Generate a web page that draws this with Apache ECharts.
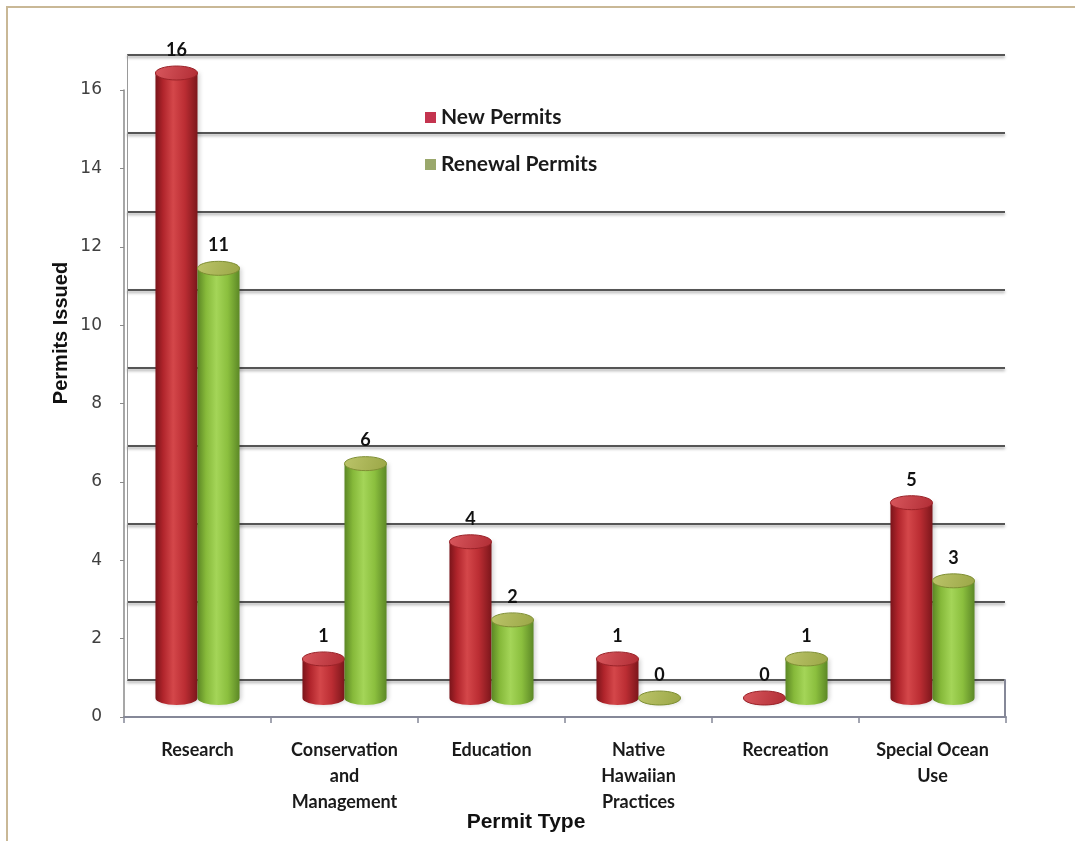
<!DOCTYPE html>
<html>
<head>
<meta charset="utf-8">
<script src="https://cdn.jsdelivr.net/npm/echarts@6/dist/echarts.min.js"></script>
<style>
  html, body { margin: 0; padding: 0; background: #ffffff; }
  #chart { width: 1075px; height: 841px; }
</style>
</head>
<body>
<div id="chart"></div>
<script>
// Permits issued by permit type
const categories = [
  'Research',
  'Conservation\nand\nManagement',
  'Education',
  'Native\nHawaiian\nPractices',
  'Recreation',
  'Special Ocean\nUse'
];
const newPermits = [16, 1, 4, 1, 0, 5];
const renewalPermits = [11, 6, 2, 0, 1, 3];
const valueMin = 0;
const valueMax = 16;
const valueStep = 2;

const chart = echarts.init(document.getElementById('chart'), null, { renderer: 'canvas' });

const redPalette = {
  body: [
    { offset: 0, color: '#7a141a' },
    { offset: 0.18, color: '#b0242b' },
    { offset: 0.42, color: '#d4474a' },
    { offset: 0.7, color: '#bb2d33' },
    { offset: 1, color: '#7c161b' }
  ],
  cap: [
    { offset: 0, color: '#d9585e' },
    { offset: 1, color: '#b02c34' }
  ],
  rim: '#9a2228'
};
const greenPalette = {
  body: [
    { offset: 0, color: '#5b8624' },
    { offset: 0.2, color: '#86b93a' },
    { offset: 0.45, color: '#a4d558' },
    { offset: 0.72, color: '#8bbf3e' },
    { offset: 1, color: '#5c8826' }
  ],
  cap: [
    { offset: 0, color: '#bcc46a' },
    { offset: 1, color: '#9aa646' }
  ],
  rim: '#7f8f34'
};

const labelFont = 'Lato, "Open Sans", sans-serif';

// A cylinder standing on the floor, shifted left (-1) or right (+1) of the category centre
function cylinder(palette, side) {
  return function (params, api) {
    const i = api.value(0);
    const v = api.value(1);
    const top = api.coord([i, v]);
    const base = api.coord([i, 0]);
    const band = api.size([1, 0])[0];
    const rx = band * 0.143;
    const ry = 7;
    const cx = top[0] + side * rx;
    const x0 = cx - rx;
    const x1 = cx + rx;
    return {
      type: 'group',
      children: [
        {
          type: 'path',
          shape: {
            pathData: 'M' + x0 + ' ' + top[1] + ' L' + x0 + ' ' + base[1] +
              ' A' + rx + ' ' + ry + ' 0 0 0 ' + x1 + ' ' + base[1] +
              ' L' + x1 + ' ' + top[1] + ' Z'
          },
          style: {
            fill: new echarts.graphic.LinearGradient(0, 0, 1, 0, palette.body),
            shadowColor: 'rgba(0,0,0,0.18)',
            shadowBlur: 4,
            shadowOffsetX: 2
          }
        },
        {
          type: 'ellipse',
          shape: { cx: cx, cy: top[1], rx: rx, ry: ry },
          style: {
            fill: new echarts.graphic.LinearGradient(0, 0, 1, 1, palette.cap),
            stroke: palette.rim,
            lineWidth: 1
          }
        },
        {
          type: 'text',
          style: {
            text: String(v),
            x: cx,
            y: top[1] - ry - 16,
            align: 'center',
            verticalAlign: 'middle',
            font: 'bold 18px ' + labelFont,
            fill: '#111111'
          }
        }
      ]
    };
  };
}

const floorLine = '#858898';

const option = {
  backgroundColor: '#ffffff',
  animation: false,
  color: ['#c4344f', '#9aa86c'],
  legend: {
    orient: 'vertical',
    left: 420,
    top: 102,
    itemWidth: 11,
    itemHeight: 11,
    itemGap: 26,
    icon: 'rect',
    textStyle: {
      fontFamily: labelFont,
      fontWeight: 'bold',
      fontSize: 21,
      color: '#1a1a1a',
      padding: [0, 0, 0, 0]
    },
    data: ['New Permits', 'Renewal Permits']
  },
  grid: [
    // back wall
    { left: 127, right: 70, top: 55, bottom: 161 },
    // front edge with the axes
    { left: 124, right: 69, top: 90, bottom: 124 },
    // floor depth
    { left: 124, right: 70, top: 680, bottom: 124 },
    // plane the cylinders stand in
    { left: 124, right: 69, top: 73, bottom: 143 }
  ],
  xAxis: [
    { gridIndex: 0, type: 'category', data: categories, show: false },
    {
      gridIndex: 1,
      type: 'category',
      data: categories,
      axisLine: { lineStyle: { color: floorLine, width: 2 } },
      axisTick: { show: true, length: 6, lineStyle: { color: floorLine, width: 1.5 } },
      axisLabel: {
        margin: 20,
        interval: 0,
        fontFamily: labelFont,
        fontWeight: 'bold',
        fontSize: 18,
        lineHeight: 26,
        color: '#1a1a1a'
      }
    },
    { gridIndex: 2, type: 'category', data: categories, show: false },
    { gridIndex: 3, type: 'category', data: categories, show: false }
  ],
  yAxis: [
    {
      gridIndex: 0,
      type: 'value',
      min: valueMin,
      max: valueMax,
      interval: valueStep,
      axisLabel: { show: false },
      axisTick: { show: false },
      axisLine: { show: true, lineStyle: { color: '#9a9a9a', width: 1 } },
      splitLine: {
        show: true,
        lineStyle: {
          color: '#555555',
          width: 2,
          shadowColor: 'rgba(0,0,0,0.35)',
          shadowBlur: 3,
          shadowOffsetY: 2
        }
      }
    },
    {
      gridIndex: 1,
      type: 'value',
      min: valueMin,
      max: valueMax,
      interval: valueStep,
      axisLine: { show: true, lineStyle: { color: '#8a8a8a', width: 1.5 } },
      axisTick: { show: true, length: 4, lineStyle: { color: '#8a8a8a' } },
      splitLine: { show: false },
      axisLabel: {
        margin: 22,
        fontFamily: '"DejaVu Sans", Verdana, sans-serif',
        fontSize: 17,
        color: '#404040'
      }
    },
    {
      gridIndex: 2,
      type: 'value',
      position: 'right',
      min: 0,
      max: 1,
      axisLabel: { show: false },
      axisTick: { show: false },
      splitLine: { show: false },
      axisLine: { show: true, lineStyle: { color: floorLine, width: 2 } }
    },
    {
      gridIndex: 3,
      type: 'value',
      min: valueMin,
      max: valueMax,
      show: false,
      splitLine: { show: false }
    }
  ],
  graphic: [
    {
      type: 'rect',
      shape: { x: 7, y: 7, width: 1200, height: 1000 },
      style: { fill: 'none', stroke: '#c9b896', lineWidth: 2 },
      silent: true
    },
    {
      type: 'text',
      x: 61,
      y: 333,
      rotation: Math.PI / 2,
      style: {
        text: 'Permits Issued',
        align: 'center',
        verticalAlign: 'middle',
        font: 'bold 20px "Liberation Sans", Arial, sans-serif',
        fill: '#111111'
      }
    },
    {
      type: 'text',
      x: 526,
      y: 822,
      style: {
        text: 'Permit Type',
        align: 'center',
        verticalAlign: 'middle',
        font: 'bold 21px "Liberation Sans", Arial, sans-serif',
        fill: '#111111'
      }
    }
  ],
  series: [
    {
      name: 'New Permits',
      type: 'custom',
      xAxisIndex: 3,
      yAxisIndex: 3,
      itemStyle: { color: '#c4344f' },
      renderItem: cylinder(redPalette, -1),
      data: newPermits.map((v, i) => [i, v]),
      z: 5
    },
    {
      name: 'Renewal Permits',
      type: 'custom',
      xAxisIndex: 3,
      yAxisIndex: 3,
      itemStyle: { color: '#9aa86c' },
      renderItem: cylinder(greenPalette, 1),
      data: renewalPermits.map((v, i) => [i, v]),
      z: 6
    }
  ]
};

chart.setOption(option);
</script>
</body>
</html>
